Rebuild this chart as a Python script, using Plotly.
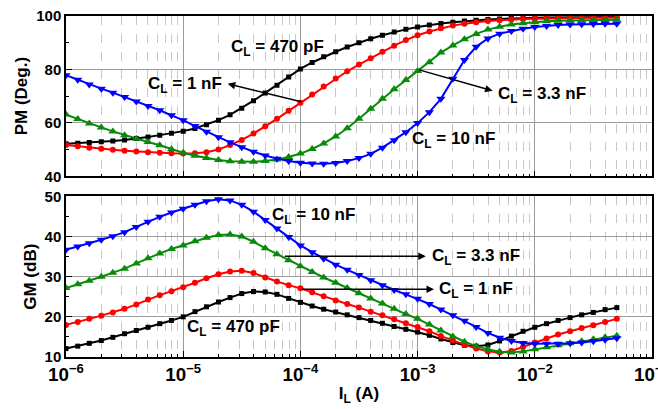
import plotly.graph_objects as go

# Load current I_L (A)
I_L = [1.00e-6, 1.26e-6, 1.58e-6, 2.00e-6, 2.51e-6, 3.16e-6, 3.98e-6, 5.01e-6, 6.31e-6, 7.94e-6,
       1.00e-5, 1.26e-5, 1.58e-5, 2.00e-5, 2.51e-5, 3.16e-5, 3.98e-5, 5.01e-5, 6.31e-5, 7.94e-5,
       1.00e-4, 1.26e-4, 1.58e-4, 2.00e-4, 2.51e-4, 3.16e-4, 3.98e-4, 5.01e-4, 6.31e-4, 7.94e-4,
       1.00e-3, 1.26e-3, 1.58e-3, 2.00e-3, 2.51e-3, 3.16e-3, 3.98e-3, 5.01e-3, 6.31e-3, 7.94e-3,
       1.00e-2, 1.26e-2, 1.58e-2, 2.00e-2, 2.51e-2, 3.16e-2, 3.98e-2, 5.01e-2]

# Phase margin (deg)
pm_470p = [52.2, 52.4, 52.6, 52.9, 53.2, 53.6, 54.1, 54.7, 55.4, 56.1,
           56.9, 57.9, 59.3, 61.0, 63.0, 65.5, 68.3, 71.2, 74.1, 77.2,
           80.2, 82.6, 84.7, 86.6, 88.4, 90.0, 91.5, 92.8, 94.0, 95.0,
           95.9, 96.6, 97.2, 97.7, 98.1, 98.4, 98.7, 98.9, 99.1, 99.2,
           99.3, 99.4, 99.4, 99.5, 99.5, 99.5, 99.6, 99.6]
pm_1n = [51.7, 51.2, 50.7, 50.3, 49.9, 49.6, 49.3, 49.0, 48.8, 48.6,
         48.5, 48.6, 49.0, 50.0, 51.7, 53.6, 56.0, 58.7, 61.5, 64.5,
         67.5, 70.6, 73.6, 76.6, 79.3, 81.8, 84.2, 86.6, 88.9, 91.0,
         92.8, 94.2, 95.4, 96.4, 97.1, 97.7, 98.1, 98.4, 98.7, 98.9,
         99.0, 99.1, 99.2, 99.2, 99.3, 99.3, 99.3, 99.4]
pm_3n3 = [63.1, 61.4, 59.8, 58.3, 56.8, 55.4, 54.0, 52.8, 51.6, 50.1,
          48.8, 47.7, 46.8, 46.1, 45.6, 45.4, 45.4, 45.7, 46.3, 47.2,
          48.5, 50.2, 52.3, 54.9, 58.0, 61.5, 65.3, 69.0, 72.6, 76.0,
          79.4, 82.7, 86.3, 89.0, 91.3, 93.3, 94.9, 96.0, 96.8, 97.3,
          97.7, 98.0, 98.2, 98.3, 98.4, 98.5, 98.5, 98.6]
pm_10n = [77.8, 76.1, 74.4, 72.8, 71.3, 69.7, 68.0, 66.3, 64.7, 62.8,
          61.0, 58.8, 56.7, 54.6, 52.7, 50.9, 49.2, 47.8, 46.6, 45.7,
          45.1, 44.8, 44.7, 45.0, 45.7, 46.8, 48.4, 50.7, 53.5, 56.5,
          59.9, 64.0, 69.0, 76.5, 83.5, 88.5, 91.6, 93.4, 94.4, 95.2,
          95.9, 96.3, 96.6, 96.8, 96.9, 97.0, 97.1, 97.1]

# Gain margin (dB)
gm_470p = [12.1, 12.7, 13.4, 14.1, 14.9, 15.8, 16.6, 17.4, 18.3, 19.1,
           20.0, 21.3, 22.5, 23.7, 24.8, 25.8, 26.3, 26.2, 25.6, 24.6,
           23.6, 22.7, 21.9, 21.2, 20.5, 19.8, 19.1, 18.4, 17.6, 16.9,
           16.2, 15.4, 14.5, 13.6, 12.9, 12.7, 13.0, 14.0, 15.2, 16.4,
           17.4, 18.3, 19.1, 19.8, 20.5, 21.1, 21.8, 22.3]
gm_1n = [18.0, 18.7, 19.5, 20.3, 21.1, 22.0, 23.1, 24.3, 25.4, 26.4,
         27.4, 28.5, 29.6, 30.6, 31.3, 31.5, 30.9, 29.8, 28.8, 27.9,
         27.1, 26.1, 25.1, 24.1, 23.2, 22.3, 21.3, 20.4, 19.4, 18.4,
         17.5, 16.4, 15.2, 14.1, 13.0, 12.1, 11.4, 11.1, 11.5, 12.5,
         13.6, 14.6, 15.6, 16.4, 17.2, 17.9, 18.7, 19.5]
gm_3n3 = [27.2, 28.1, 29.0, 30.0, 31.0, 32.0, 33.3, 34.6, 35.8, 36.9,
          37.8, 38.8, 39.7, 40.4, 40.5, 40.0, 38.7, 37.1, 35.6, 34.1,
          32.6, 31.2, 29.8, 28.5, 27.2, 25.9, 24.6, 23.3, 22.0, 20.7,
          19.5, 18.1, 16.6, 15.1, 13.8, 12.7, 11.9, 11.3, 11.1, 11.4,
          11.9, 12.4, 12.9, 13.4, 13.9, 14.4, 14.9, 15.3]
gm_10n = [36.7, 37.5, 38.3, 39.2, 40.1, 41.1, 42.4, 43.7, 44.9, 46.0,
          46.9, 47.9, 48.8, 49.3, 49.0, 47.9, 46.2, 44.1, 42.0, 39.9,
          37.8, 36.1, 34.5, 33.0, 31.7, 30.4, 29.1, 27.9, 26.7, 25.6,
          24.5, 23.2, 21.8, 20.4, 19.0, 17.5, 16.0, 14.8, 14.0, 13.5,
          13.3, 13.3, 13.3, 13.4, 13.6, 13.9, 14.3, 14.7]

series = [
    ("C_L = 470 pF", pm_470p, gm_470p, "#000000", "square", 5),
    ("C_L = 1 nF", pm_1n, gm_1n, "#ff0000", "circle", 6),
    ("C_L = 3.3 nF", pm_3n3, gm_3n3, "#0a8a0a", "triangle-up", 8),
    ("C_L = 10 nF", pm_10n, gm_10n, "#0000ff", "triangle-down", 8),
]

FONT = "Liberation Sans, Arial, sans-serif"

fig = go.Figure()
for name, pm, gm, col, sym, msz in series:
    fig.add_trace(go.Scatter(x=I_L, y=pm, mode="lines+markers", name=name,
                             line=dict(color=col, width=2),
                             marker=dict(symbol=sym, size=msz, color=col),
                             xaxis="x", yaxis="y", showlegend=False))
    fig.add_trace(go.Scatter(x=I_L, y=gm, mode="lines+markers", name=name,
                             line=dict(color=col, width=2),
                             marker=dict(symbol=sym, size=msz, color=col),
                             xaxis="x2", yaxis="y2", showlegend=False))

xcommon = dict(type="log", range=[-6, -1], dtick=1, showline=True, mirror=True,
               linecolor="black", linewidth=1.5, ticks="inside", ticklen=6,
               tickcolor="black", showgrid=True, gridcolor="#9a9a9a", gridwidth=1,
               exponentformat="power", zeroline=False, ticklabeloverflow="allow",
               automargin=False,
               minor=dict(dtick="D1", ticks="inside", ticklen=3, tickcolor="black",
                          showgrid=True, gridcolor="#c8c8c8", griddash="dash", gridwidth=1),
               tickfont=dict(family=FONT, size=15, color="black", weight="bold"))
ycommon = dict(showline=True, mirror=True, linecolor="black", linewidth=1.5,
               ticks="inside", ticklen=6, tickcolor="black", showgrid=True,
               gridcolor="#9a9a9a", gridwidth=1, zeroline=False, automargin=False,
               tickfont=dict(family=FONT, size=15, color="black", weight="bold"))

tfont = dict(family=FONT, size=17, color="black", weight="bold")

fig.update_layout(
    width=658, height=409,
    margin=dict(l=66, r=6, t=16, b=52, autoexpand=False),
    paper_bgcolor="white", plot_bgcolor="white",
    xaxis=dict(xcommon, domain=[0, 1], anchor="y", showticklabels=False),
    xaxis2=dict(xcommon, domain=[0, 1], anchor="y2", matches="x",
                title=dict(text="I<sub>L</sub> (A)", standoff=4, font=tfont)),
    yaxis=dict(ycommon, domain=[0.530, 1], range=[40, 100], dtick=20,
               minor=dict(dtick=10, ticks="inside", ticklen=3, tickcolor="black", showgrid=False),
               title=dict(text="PM (Deg.)", font=tfont, standoff=4)),
    yaxis2=dict(ycommon, domain=[0, 0.471], range=[10, 50], dtick=10,
                minor=dict(dtick=5, ticks="inside", ticklen=3, tickcolor="black", showgrid=False),
                title=dict(text="GM (dB)", font=tfont, standoff=4)),
)

lab = dict(family=FONT, size=17, color="black", weight="bold")

def label(text, lx, y, xref, yref):
    fig.add_annotation(x=lx, y=y, xref=xref, yref=yref, text=text, showarrow=False,
                       font=lab, xanchor="center", yanchor="middle")

def arrow(x0, y0, x1, y1, xref, yref):
    fig.add_annotation(x=x1, y=y1, ax=x0, ay=y0, xref=xref, yref=yref,
                       axref=xref, ayref=yref, text="", showarrow=True,
                       arrowhead=2, arrowsize=1, arrowwidth=1.5, arrowcolor="black")

# top panel labels (x in log10 units)
label("C<sub>L</sub> = 470 pF", -4.197, 88.0, "x", "y")
label("C<sub>L</sub> = 1 nF", -4.983, 74.0, "x", "y")
label("C<sub>L</sub> = 3.3 nF", -1.94, 70.5, "x", "y")
label("C<sub>L</sub> = 10 nF", -2.692, 53.6, "x", "y")
arrow(-3.98, 67.8, -4.62, 74.6, "x", "y")
arrow(-3.0, 80.0, -2.36, 72.0, "x", "y")

# bottom panel labels
label("C<sub>L</sub> = 10 nF", -3.889, 45.2, "x2", "y2")
label("C<sub>L</sub> = 3.3 nF", -2.504, 35.0, "x2", "y2")
label("C<sub>L</sub> = 1 nF", -2.50, 26.6, "x2", "y2")
label("C<sub>L</sub> = 470 pF", -4.568, 17.3, "x2", "y2")
arrow(-4.145, 35.07, -2.93, 35.07, "x2", "y2")
arrow(-4.0, 26.85, -2.86, 26.85, "x2", "y2")

fig.write_html("out.html")
